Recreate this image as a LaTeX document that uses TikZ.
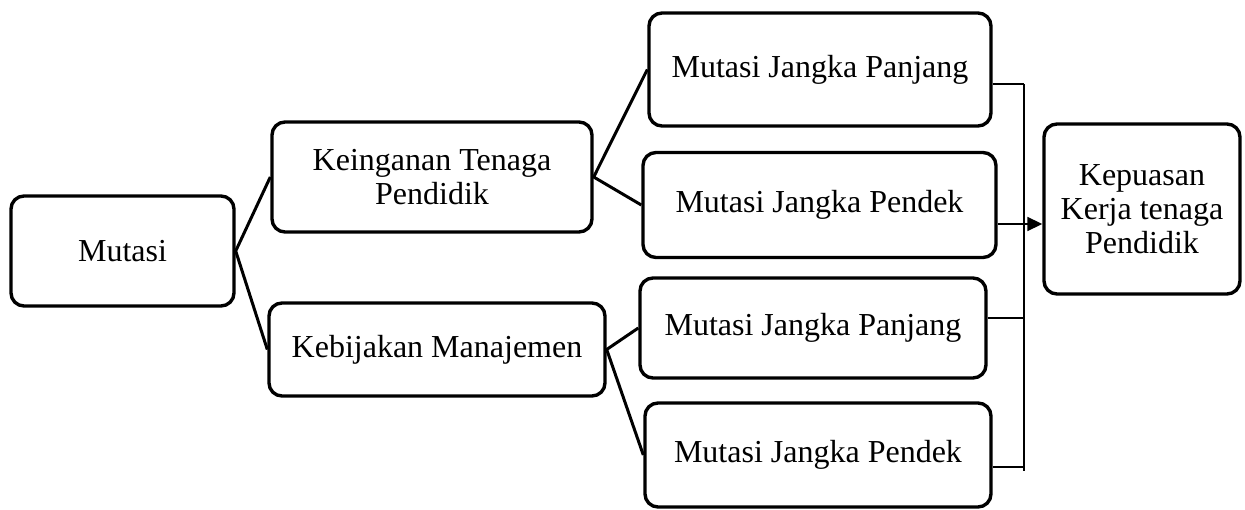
\documentclass[tikz,border=0pt]{standalone}
\usepackage{fontspec}
\setmainfont{Liberation Serif}
\usetikzlibrary{arrows.meta}
\begin{document}
\begin{tikzpicture}[x=1pt,y=-1pt,
  box/.style={draw,line width=3.4pt,rounded corners=13pt,inner sep=0pt,align=center,
    font=\fontsize{32}{34}\selectfont},
  conn/.style={line width=3pt},
  thin/.style={line width=2.4pt}]
\useasboundingbox (0,0) rectangle (1245,510);
\node[box,minimum width=223pt,minimum height=110pt] (m) at (122.5,251) {Mutasi};
\node[box,minimum width=320pt,minimum height=110pt] (kt) at (432,177) {Keinganan Tenaga\\Pendidik};
\node[box,minimum width=336pt,minimum height=93pt] (km) at (437,349.5) {Kebijakan Manajemen};
\node[box,minimum width=342pt,minimum height=113pt] (p1) at (820,69.5) {Mutasi Jangka Panjang};
\node[box,minimum width=353pt,minimum height=105pt] (d1) at (819.5,205) {Mutasi Jangka Pendek};
\node[box,minimum width=346pt,minimum height=100pt] (p2) at (813,328) {Mutasi Jangka Panjang};
\node[box,minimum width=346pt,minimum height=104pt] (d2) at (818,455) {Mutasi Jangka Pendek};
\node[box,minimum width=196pt,minimum height=170pt] (k) at (1142,209) {Kepuasan\\Kerja tenaga\\Pendidik};
\coordinate (bt) at (1024,84);
\coordinate (bb) at (1024,471);
\draw[conn] (kt.west) -- (m.east) -- (km.west);
\draw[conn] (p1.west) -- (kt.east) -- (d1.west);
\draw[conn] (p2.west) -- (km.east) -- (d2.west);
\draw[thin] (bt) -- (bb);
\draw[thin] ([yshift=-14.5pt]p1.east) -- (bt);
\draw[thin] ([yshift=10pt]p2.east) -- ([yshift=10pt]p2.east -| bt);
\draw[thin] ([yshift=-12pt]d2.east) -- ([yshift=-12pt]d2.east -| bt);
\draw[line width=1.8pt,-{Triangle[length=15pt,width=14pt]}] ([yshift=-19pt]d1.east) -- ([yshift=-15pt]k.west);
\end{tikzpicture}
\end{document}
